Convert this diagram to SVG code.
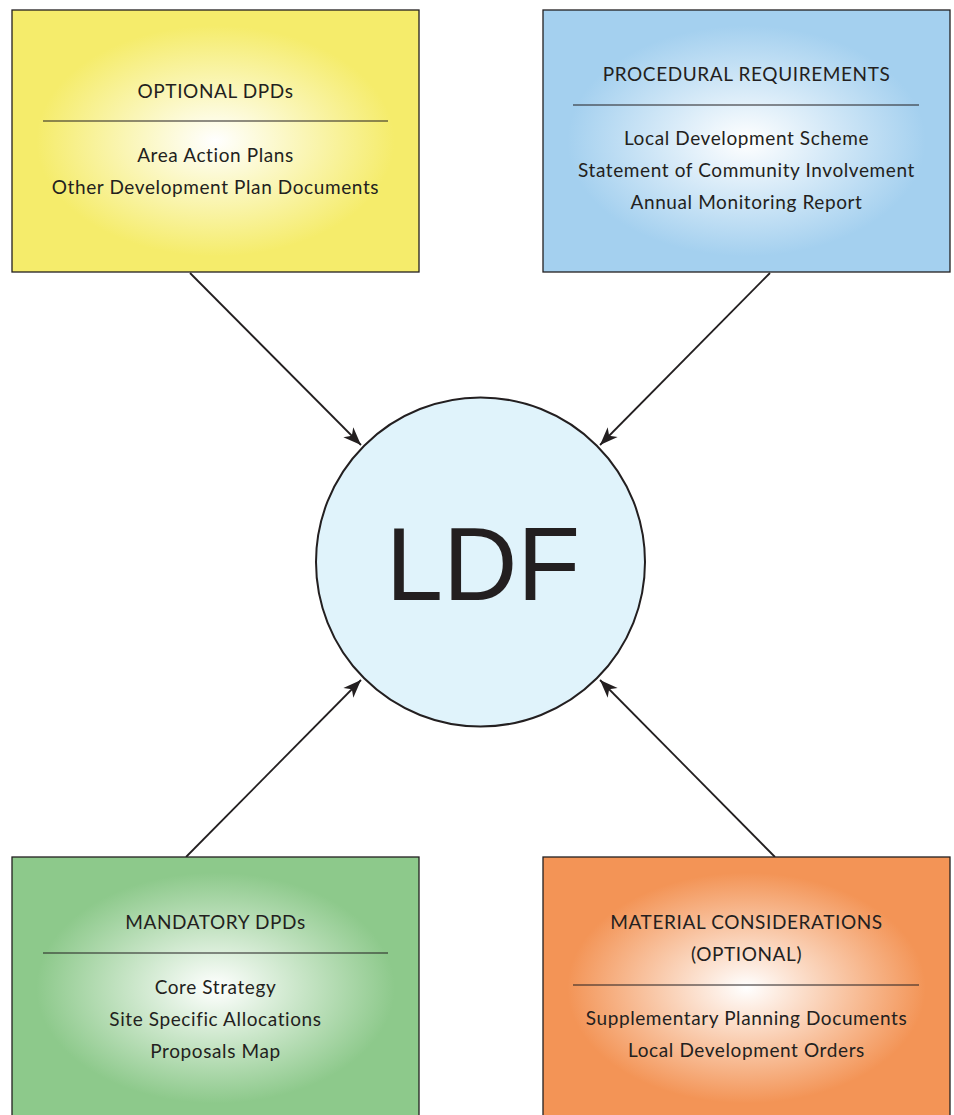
<svg xmlns="http://www.w3.org/2000/svg" width="954" height="1115" viewBox="0 0 954 1115">
<style>
  .box { stroke: #231F20; stroke-width: 1.3; }
  .sep { stroke: #231F20; stroke-width: 1.2; }
  .t { font-family: Lato, "Open Sans", sans-serif; font-size: 19px; letter-spacing: 0.6px; fill: #231F20; text-anchor: middle; }
  .conn { stroke: #231F20; stroke-width: 1.8; fill: none; marker-end: url(#arrow); }
  .ldf { font-family: "Liberation Sans", Arial, sans-serif; font-size: 103px; fill: #231F20; text-anchor: middle; }
</style>
<defs>
  <radialGradient id="gY" cx="0.5" cy="0.5" r="0.55">
    <stop offset="0" stop-color="#FFFFFF"/>
    <stop offset="0.8" stop-color="#F5EC6B"/>
    <stop offset="1" stop-color="#F5EC6B"/>
  </radialGradient>
  <radialGradient id="gB" cx="0.5" cy="0.5" r="0.55">
    <stop offset="0" stop-color="#FFFFFF"/>
    <stop offset="0.8" stop-color="#A4D0EF"/>
    <stop offset="1" stop-color="#A4D0EF"/>
  </radialGradient>
  <radialGradient id="gG" cx="0.5" cy="0.5" r="0.55">
    <stop offset="0" stop-color="#FFFFFF"/>
    <stop offset="0.8" stop-color="#8DC98B"/>
    <stop offset="1" stop-color="#8DC98B"/>
  </radialGradient>
  <radialGradient id="gO" cx="0.5" cy="0.5" r="0.55">
    <stop offset="0" stop-color="#FFFFFF"/>
    <stop offset="0.8" stop-color="#F39456"/>
    <stop offset="1" stop-color="#F39456"/>
  </radialGradient>
  <marker id="arrow" markerUnits="userSpaceOnUse" markerWidth="20" markerHeight="16" refX="0" refY="0" viewBox="-18 -8 20 16" orient="auto" overflow="visible">
    <path d="M0,0 L-18,-7 L-13,0 L-18,7 Z" fill="#231F20"/>
  </marker>
</defs>

<g id="connectors">
  <line class="conn" x1="190" y1="273" x2="361" y2="445"/>
  <line class="conn" x1="770" y1="273" x2="600" y2="445"/>
  <line class="conn" x1="186" y1="857" x2="361" y2="680"/>
  <line class="conn" x1="775" y1="857" x2="600" y2="680"/>
</g>

<g id="node-optional-dpds">
  <rect class="box" x="12" y="10" width="407" height="262" fill="url(#gY)"/>
  <text class="t" x="215.5" y="98">OPTIONAL DPDs</text>
  <line class="sep" x1="43" y1="121" x2="388" y2="121"/>
  <text class="t" x="215.5" y="162">Area Action Plans</text>
  <text class="t" x="215.5" y="194">Other Development Plan Documents</text>
</g>

<g id="node-procedural">
  <rect class="box" x="543" y="10" width="407" height="262" fill="url(#gB)"/>
  <text class="t" x="746.5" y="81">PROCEDURAL REQUIREMENTS</text>
  <line class="sep" x1="573" y1="105" x2="919" y2="105"/>
  <text class="t" x="746.5" y="145">Local Development Scheme</text>
  <text class="t" x="746.5" y="177">Statement of Community Involvement</text>
  <text class="t" x="746.5" y="209">Annual Monitoring Report</text>
</g>

<g id="node-mandatory">
  <rect class="box" x="12" y="857" width="407" height="262" fill="url(#gG)"/>
  <text class="t" x="215.5" y="929">MANDATORY DPDs</text>
  <line class="sep" x1="43" y1="953" x2="388" y2="953"/>
  <text class="t" x="215.5" y="994">Core Strategy</text>
  <text class="t" x="215.5" y="1026">Site Specific Allocations</text>
  <text class="t" x="215.5" y="1058">Proposals Map</text>
</g>

<g id="node-material">
  <rect class="box" x="543" y="857" width="407" height="262" fill="url(#gO)"/>
  <text class="t" x="746.5" y="929">MATERIAL CONSIDERATIONS</text>
  <text class="t" x="746.5" y="961">(OPTIONAL)</text>
  <line class="sep" x1="573" y1="985" x2="919" y2="985"/>
  <text class="t" x="746.5" y="1025">Supplementary Planning Documents</text>
  <text class="t" x="746.5" y="1057">Local Development Orders</text>
</g>

<g id="node-ldf">
  <circle cx="480.5" cy="562" r="164.5" fill="#E0F3FB" stroke="#231F20" stroke-width="2"/>
  <text class="ldf" x="483" y="600">LDF</text>
</g>
</svg>
